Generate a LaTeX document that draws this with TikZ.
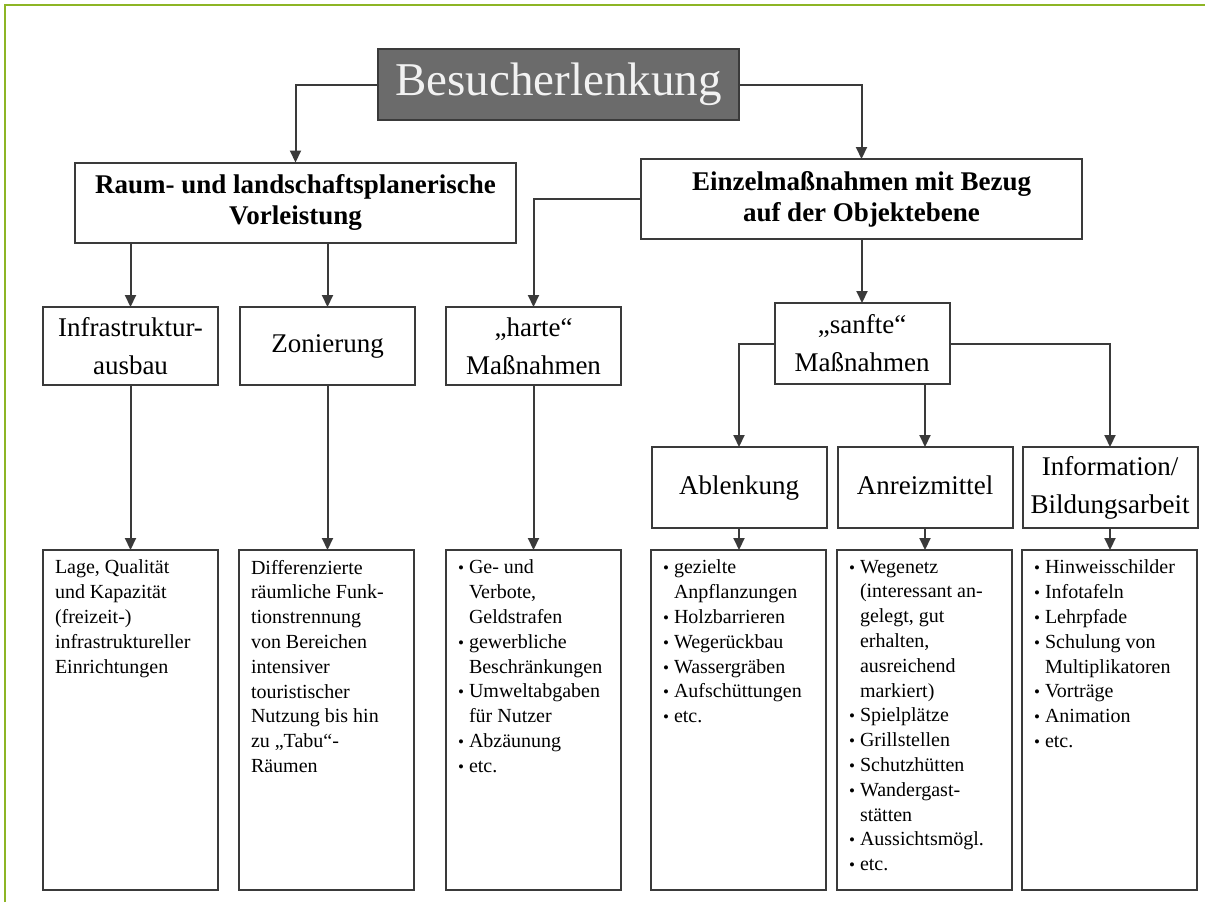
\documentclass[tikz,border=0pt]{standalone}
\usepackage{fontspec}
\setmainfont{Liberation Serif}
\usepackage{tikz}
\usetikzlibrary{arrows.meta, positioning}
\definecolor{rahmen}{HTML}{8DB525}
\definecolor{linie}{HTML}{3A3A3A}
\definecolor{kopf}{HTML}{6B6B6B}

\newcommand{\pkt}{\makebox[5.5pt][l]{\fontsize{8.5}{8.5}\selectfont\textbullet}}
\newcommand{\ein}{\hspace*{5.5pt}}
\newcommand{\spalte}[1]{\hspace*{6pt}\parbox[t][160pt][t]{78.5pt}{\raggedright #1}\hspace*{3pt}}

\begin{document}
\begin{tikzpicture}[x=0.5pt, y=-0.5pt,
  b/.style={draw=linie, line width=1pt, fill=white, align=center, inner sep=2pt, outer sep=0pt,
    minimum width=87.5pt, minimum height=39pt, font=\fontsize{13.5}{19}\selectfont},
  eine/.style={text height=9.5pt, text depth=3pt},
  hb/.style={b, minimum width=220.5pt, minimum height=40pt, font=\bfseries\fontsize{13.5}{15.5}\selectfont},
  tb/.style={draw=linie, line width=1pt, inner sep=0pt, outer sep=0pt,
    minimum width=87.5pt, minimum height=170pt, font=\fontsize{10}{12.4}\selectfont},
  fl/.style={-{Triangle[length=6pt, width=5.5pt]}, line width=1pt, draw=linie}]
  \useasboundingbox (0,0) rectangle (1205,902);
  \draw[rahmen, line width=1.3pt] (5,902) -- (5,5) -- (1205,5);
  % oberste Ebenen
  \node[draw=linie, line width=1pt, fill=kopf, text=white!95!black, outer sep=0pt,
    minimum width=180.5pt, minimum height=35.5pt, font=\fontsize{23.5}{28}\selectfont] (titel) at (558.5,84.5) {Besucherlenkung};
  \node[hb] (raum) at (295.5,202.5) {Raum- und landschaftsplanerische\\ Vorleistung};
  \node[hb] (einz) at (861.5,199) {Einzelmaßnahmen mit Bezug\\ auf der Objektebene};
  % mittlere Ebenen
  \node[b] (infra) at (130.5,346) {Infrastruktur-\\ ausbau};
  \node[b, eine, right=11pt of infra] (zon) {Zonierung};
  \node[b, right=15.5pt of zon] (harte) {„harte“\\ Maßnahmen};
  \node[b, minimum height=40.5pt] (sanfte) at (862,343.5) {„sanfte“\\ Maßnahmen};
  \node[b, eine, minimum height=40.5pt] (ablenk) at (739,487.5) {Ablenkung};
  \node[b, eine, minimum height=40.5pt, right=5.5pt of ablenk] (anreiz) {Anreizmittel};
  \node[b, minimum height=40.5pt, right=5pt of anreiz] (info) {Information/\\ Bildungsarbeit};
  % untere Kaesten
  \node[tb] (lage) at (130.5,720) {\spalte{Lage, Qualität\\ und Kapazität\\ (freizeit-)\\ infrastruktureller\\ Einrichtungen}};
  \node[tb, right=10.5pt of lage] (diff) {\spalte{Differenzierte\\ räumliche Funk-\\ tionstrennung\\ von Bereichen\\ intensiver\\ touristischer\\ Nutzung bis hin\\ zu „Tabu“-\\ Räumen}};
  \node[tb, right=16pt of diff] (ge) {\spalte{\pkt Ge- und\\ \ein Verbote,\\ \ein Geldstrafen\\ \pkt gewerbliche\\ \ein Beschränkungen\\ \pkt Umweltabgaben\\ \ein für Nutzer\\ \pkt Abzäunung\\ \pkt etc.}};
  \node[tb, right=15pt of ge] (gez) {\spalte{\pkt gezielte\\ \ein Anpflanzungen\\ \pkt Holzbarrieren\\ \pkt Wegerückbau\\ \pkt Wassergräben\\ \pkt Aufschüttungen\\ \pkt etc.}};
  \node[tb, right=5.5pt of gez] (weg) {\spalte{\pkt Wegenetz\\ \ein (interessant an-\\ \ein gelegt, gut\\ \ein erhalten,\\ \ein ausreichend\\ \ein markiert)\\ \pkt Spielplätze\\ \pkt Grillstellen\\ \pkt Schutzhütten\\ \pkt Wandergast-\\ \ein stätten\\ \pkt Aussichtsmögl.\\ \pkt etc.}};
  \node[tb, right=5pt of weg] (hin) {\spalte{\pkt Hinweisschilder\\ \pkt Infotafeln\\ \pkt Lehrpfade\\ \pkt Schulung von\\ \ein Multiplikatoren\\ \pkt Vorträge\\ \pkt Animation\\ \pkt etc.}};
  % Verbindungen
  \draw[fl] (titel.west) -| (raum.north); \draw[fl] (titel.east) -| (einz.north);
  \draw[fl] (raum.south -| infra.north) -- (infra.north); \draw[fl] (raum.south -| zon.north) -- (zon.north);
  \draw[fl] (einz.west) -| (harte.north); \draw[fl] (einz.south -| sanfte.north) -- (sanfte.north);
  \draw[fl] (sanfte.west) -| (ablenk.north); \draw[fl] (sanfte.south -| anreiz.north) -- (anreiz.north);
  \draw[fl] (sanfte.east) -| (info.north);
  \draw[fl] (infra.south) -- (infra.south |- lage.north); \draw[fl] (zon.south) -- (zon.south |- diff.north);
  \draw[fl] (harte.south) -- (harte.south |- ge.north); \draw[fl] (ablenk.south) -- (ablenk.south |- gez.north);
  \draw[fl] (anreiz.south) -- (anreiz.south |- weg.north); \draw[fl] (info.south) -- (info.south |- hin.north);
\end{tikzpicture}
\end{document}
